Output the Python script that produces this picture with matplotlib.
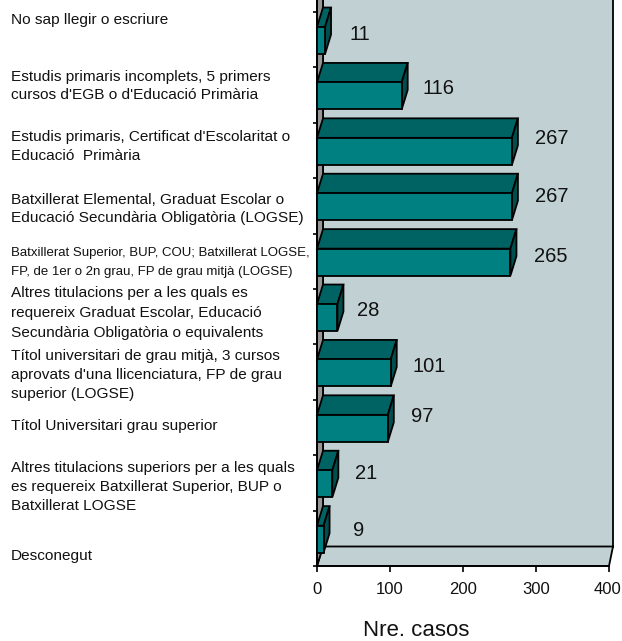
import matplotlib
matplotlib.use("Agg")
import matplotlib.pyplot as plt
from matplotlib.patches import Polygon
from matplotlib.transforms import ScaledTranslation

categories = [
    "No sap llegir o escriure",
    "Estudis primaris incomplets, 5 primers\ncursos d'EGB o d'Educació Primària",
    "Estudis primaris, Certificat d'Escolaritat o\nEducació  Primària",
    "Batxillerat Elemental, Graduat Escolar o\nEducació Secundària Obligatòria (LOGSE)",
    "Batxillerat Superior, BUP, COU; Batxillerat LOGSE,\nFP, de 1er o 2n grau, FP de grau mitjà (LOGSE)",
    "Altres titulacions per a les quals es\nrequereix Graduat Escolar, Educació\nSecundària Obligatòria o equivalents",
    "Títol universitari de grau mitjà, 3 cursos\naprovats d'una llicenciatura, FP de grau\nsuperior (LOGSE)",
    "Títol Universitari grau superior",
    "Altres titulacions superiors per a les quals\nes requereix Batxillerat Superior, BUP o\nBatxillerat LOGSE",
    "Desconegut",
]
values = [11, 116, 267, 267, 265, 28, 101, 97, 21, 9]
xticks = [0, 100, 200, 300, 400]
xlabel = "Nre. casos"
# label placement in pixels
label_y = [20, 86, 146.5, 209, 262.5, 313, 375, 426, 487, 556]
label_ls = [1.3, 1.38, 1.45, 1.38, 1.7, 1.55, 1.42, 1.3, 1.42, 1.3]
value_dx = [35, 37, 40, 40, 40, 31, 38, 34, 34, 35]
value_py = [34, 88, 139, 197, 257, 310, 366, 417, 474, 530]

W, H = 622, 641
L, R, T0, B = 317, 609, 12.0, 566.0
STEP = (B - T0) / 10
PXV = (R - L) / 400
DX = 6 / PXV
DXR = 4 / PXV
DY = -19.5 / STEP

FONT = ["Liberation Sans", "DejaVu Sans"]
plt.rcParams["font.family"] = FONT
fig = plt.figure(figsize=(W / 100, H / 100), dpi=100, facecolor="white")
ax = fig.add_axes([L / W, 1 - B / H, (R - L) / W, B / H])
ax.set_xlim(0, 400)
ax.set_ylim(10, -T0 / STEP)
for s in ax.spines.values():
    s.set_visible(False)
ax.patch.set_visible(False)

EDGE = "#000000"
LW = 1.3
top = ax.get_ylim()[1]
above = top - 1
ax.add_patch(Polygon([(DX, above), (400 + DXR, above), (400 + DXR, 10 + DY), (DX, 10 + DY)],
                     fc="#C0D0D3", ec=EDGE, lw=LW, clip_on=False))
ax.add_patch(Polygon([(0, 10), (400, 10), (400 + DXR, 10 + DY), (DX, 10 + DY)],
                     fc="#C0D0D3", ec=EDGE, lw=LW, clip_on=False))
ax.add_patch(Polygon([(0, 10), (DX, 10 + DY), (DX, above), (0, above)],
                     fc="#969696", ec=EDGE, lw=LW, clip_on=False))

h = 27 / STEP
for i, v in enumerate(values):
    y0 = i + 0.5 - h / 2 + 0.015
    y1 = y0 + h
    z = 3 + i
    ax.add_patch(Polygon([(0, y0), (v, y0), (v + DX, y0 + DY), (DX, y0 + DY)],
                         fc="#006363", ec=EDGE, lw=LW, zorder=z, clip_on=False))
    ax.add_patch(Polygon([(v, y0), (v + DX, y0 + DY), (v + DX, y1 + DY), (v, y1)],
                         fc="#004F4F", ec=EDGE, lw=LW, zorder=z, clip_on=False))
    ax.add_patch(Polygon([(0, y0), (v, y0), (v, y1), (0, y1)],
                         fc="#008080", ec=EDGE, lw=LW, zorder=z, clip_on=False))
    ax.text(v + value_dx[i] / PXV, (value_py[i] - T0) / STEP, str(v), fontsize=14.5,
            ha="center", va="center", color="#111111", zorder=20)

ax.set_xticks(xticks)
ax.set_xticklabels([str(t) for t in xticks], fontsize=12, color="#111111")
ax.tick_params(axis="x", length=4.5, width=1.2, pad=7, color="black")
last = ax.get_xticklabels()[-1]
last.set_transform(last.get_transform() + ScaledTranslation(-1.5 / 100, 0, fig.dpi_scale_trans))
ax.set_yticks(range(0, 11))
ax.set_yticklabels([])
ax.tick_params(axis="y", length=3, width=1.2, color="black")
ax.plot([0, 0], [top, 10], color="black", lw=LW, clip_on=False, zorder=2)
ax.plot([0, 400], [10, 10], color="black", lw=LW, clip_on=False, zorder=2)

for lab, py, ls in zip(categories, label_y, label_ls):
    narrow = lab.startswith("Batxillerat Superior")
    fig.text(11 / W, 1 - py / H, lab, fontsize=9.55 if narrow else 11.1,
             ha="left", va="center", color="#111111", linespacing=ls)

fig.text(416 / W, 1 - 631 / H, xlabel, fontsize=16, ha="center", va="center", color="#111111")
fig.savefig("out.png", dpi=100)
